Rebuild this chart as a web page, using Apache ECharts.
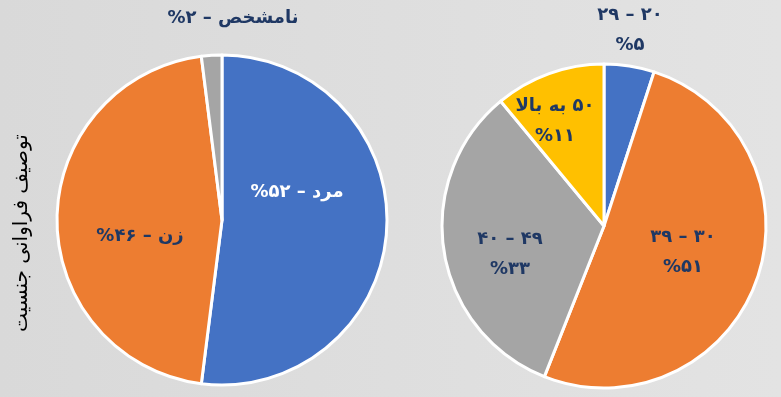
<!DOCTYPE html>
<html>
<head>
<meta charset="utf-8">
<script src="https://cdn.jsdelivr.net/npm/echarts@6/dist/echarts.min.js"></script>
<style>
  html, body { margin: 0; padding: 0; }
  #chart { width: 781px; height: 397px; }
</style>
</head>
<body>
<div id="chart"></div>
<script>
// Gender breakdown (left pie)
const genderNames = ['مرد', 'زن', 'نامشخص'];
const genderValues = [52, 46, 2];
const genderLabels = ['%۵۲ – مرد', '%۴۶ – زن', '%۲ – نامشخص'];

// Age groups (right pie)
const RLE = '\u202B', PDF = '\u202C';
const ageNames = ['۲۰–۲۹', '۳۰–۳۹', '۴۰–۴۹', '۵۰ به بالا'];
const ageValues = [5, 51, 33, 11];
const ageLabels = ['۲۹ – ۲۰\n%۵', '۳۹ – ۳۰\n%۵۱', '۴۰ – ۴۹\n%۳۳', RLE + '۵۰ به بالا' + PDF + '\n%۱۱'];

const axisTitle = 'توصیف فراوانی جنسیت';

const palette = ['#4472C4', '#ED7D31', '#A5A5A5', '#FFC000'];
const navy = '#1F3864';
const font = '"DejaVu Sans", "Noto Sans", sans-serif';

// label anchor points (pixels) for each slice
const genderLabelPos = [[297, 192], [140, 236], [233, 18]];
const ageLabelPos = [[630, 30], [683, 252], [510, 254], [555, 121]];

const chart = echarts.init(document.getElementById('chart'), null, { renderer: 'canvas' });

function pieData(names, values, labels, colors, whiteFirst) {
  return names.map((n, i) => ({
    name: n,
    value: values[i],
    itemStyle: { color: colors[i] },
    label: { formatter: labels[i], color: (whiteFirst && i === 0) ? '#ffffff' : navy }
  }));
}

const labelStyle = {
  show: true,
  position: 'inside',
  fontFamily: font,
  fontSize: 18,
  fontWeight: 'bold',
  lineHeight: 30
};

chart.setOption({
  backgroundColor: new echarts.graphic.LinearGradient(0, 0, 1, 0, [
    { offset: 0, color: '#d9d9d9' },
    { offset: 1, color: '#e3e3e3' }
  ]),
  animation: false,
  graphic: [{
    type: 'text',
    x: 22,
    y: 233,
    rotation: Math.PI / 2,
    style: {
      text: axisTitle,
      font: '20px ' + font,
      fill: '#000000',
      textAlign: 'center',
      textVerticalAlign: 'middle'
    }
  }],
  series: [
    {
      type: 'pie',
      center: [222, 220],
      radius: [0, 165],
      startAngle: 90,
      clockwise: true,
      avoidLabelOverlap: false,
      itemStyle: { borderColor: '#ffffff', borderWidth: 3 },
      label: labelStyle,
      labelLine: { show: false },
      labelLayout: p => ({
        x: genderLabelPos[p.dataIndex][0],
        y: genderLabelPos[p.dataIndex][1],
        align: 'center',
        verticalAlign: 'middle'
      }),
      emphasis: { disabled: true },
      data: pieData(genderNames, genderValues, genderLabels, palette, true)
    },
    {
      type: 'pie',
      center: [604, 226],
      radius: [0, 162],
      startAngle: 90,
      clockwise: true,
      avoidLabelOverlap: false,
      itemStyle: { borderColor: '#ffffff', borderWidth: 3 },
      label: labelStyle,
      labelLine: { show: false },
      labelLayout: p => ({
        x: ageLabelPos[p.dataIndex][0],
        y: ageLabelPos[p.dataIndex][1],
        align: 'center',
        verticalAlign: 'middle'
      }),
      emphasis: { disabled: true },
      data: pieData(ageNames, ageValues, ageLabels, palette, false)
    }
  ]
});
</script>
</body>
</html>
